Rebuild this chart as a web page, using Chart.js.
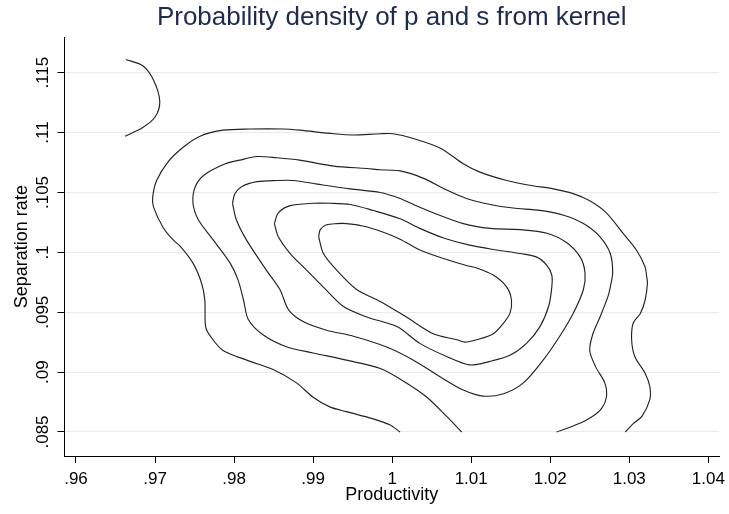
<!DOCTYPE html>
<html>
<head>
<meta charset="utf-8">
<title>Probability density of p and s from kernel</title>
<script src="https://cdn.jsdelivr.net/npm/chart.js@4.4.1/dist/chart.umd.min.js"></script>
<style>
  html, body { margin: 0; padding: 0; background: #ffffff; }
  #wrap { width: 729px; height: 514px; }
</style>
</head>
<body>
<div id="wrap"><canvas id="kde" width="729" height="514"></canvas></div>
<script>
// Axis ticks
const xTicks = [0.96, 0.97, 0.98, 0.99, 1, 1.01, 1.02, 1.03, 1.04];
const xTickLabels = ['.96', '.97', '.98', '.99', '1', '1.01', '1.02', '1.03', '1.04'];
const yTicks = [0.085, 0.09, 0.095, 0.1, 0.105, 0.11, 0.115];
const yTickLabels = ['.085', '.09', '.095', '.1', '.105', '.11', '.115'];

// Contour lines of the estimated joint density, [productivity, separation rate]
const contourArc = [
  [0.9663, 0.1161], [0.9684, 0.1156], [0.9698, 0.1144], [0.9706, 0.1126],
  [0.9700, 0.1113], [0.9684, 0.1104], [0.9662, 0.1097]
];

const contourLevel1 = [
  [1.0010, 0.0850], [0.9997, 0.0856], [0.9976, 0.0861], [0.9942, 0.0867], [0.9921, 0.0871],
  [0.9900, 0.0879], [0.9879, 0.0891], [0.9850, 0.0902], [0.9816, 0.0910], [0.9786, 0.0918],
  [0.9770, 0.0930], [0.9764, 0.0938], [0.9763, 0.0960], [0.9759, 0.0974], [0.9748, 0.0991],
  [0.9732, 0.1005], [0.9722, 0.1011], [0.9710, 0.1021], [0.9698, 0.1038], [0.9697, 0.1046],
  [0.9702, 0.1060], [0.9717, 0.1076], [0.9736, 0.1088], [0.9757, 0.1097], [0.9786, 0.1102],
  [0.9820, 0.1103], [0.9862, 0.1103], [0.9883, 0.1102], [0.9926, 0.1099], [0.9951, 0.1098],
  [0.9985, 0.1099], [1.0001, 0.1099], [1.0027, 0.1095], [1.0061, 0.1087], [1.0090, 0.1074],
  [1.0111, 0.1067], [1.0145, 0.1060], [1.0174, 0.1056], [1.0204, 0.1053], [1.0229, 0.1049],
  [1.0250, 0.1043], [1.0271, 0.1033], [1.0292, 0.1016], [1.0309, 0.1002], [1.0320, 0.0988],
  [1.0322, 0.0980], [1.0323, 0.0974], [1.0320, 0.0960], [1.0314, 0.0949], [1.0305, 0.0941],
  [1.0303, 0.0927], [1.0307, 0.0913], [1.0320, 0.0899], [1.0326, 0.0888], [1.0326, 0.0877],
  [1.0316, 0.0863], [1.0305, 0.0857], [1.0295, 0.0850]
];

const contourLevel2 = [
  [1.0088, 0.0850], [1.0069, 0.0863], [1.0044, 0.0879], [1.0018, 0.0891], [0.9985, 0.0903],
  [0.9942, 0.0910], [0.9900, 0.0916], [0.9867, 0.0921], [0.9837, 0.0931], [0.9818, 0.0944],
  [0.9812, 0.0960], [0.9805, 0.0977], [0.9795, 0.0991], [0.9774, 0.1010], [0.9755, 0.1027],
  [0.9748, 0.1041], [0.9751, 0.1055], [0.9763, 0.1065], [0.9789, 0.1074], [0.9807, 0.1077],
  [0.9829, 0.1080], [0.9854, 0.1079], [0.9883, 0.1077], [0.9926, 0.1072], [0.9968, 0.1070],
  [0.9985, 0.1069], [1.0010, 0.1068], [1.0039, 0.1062], [1.0069, 0.1052], [1.0094, 0.1045],
  [1.0124, 0.1040], [1.0153, 0.1037], [1.0187, 0.1035], [1.0217, 0.1031], [1.0242, 0.1024],
  [1.0263, 0.1013], [1.0276, 0.0999], [1.0279, 0.0983], [1.0276, 0.0971], [1.0273, 0.0963],
  [1.0263, 0.0946], [1.0254, 0.0932], [1.0250, 0.0918], [1.0257, 0.0905], [1.0269, 0.0891],
  [1.0271, 0.0879], [1.0263, 0.0868], [1.0246, 0.0860], [1.0225, 0.0854], [1.0208, 0.0850]
];

const contourLevel3 = [
  [0.9798, 0.1041], [0.9801, 0.1049], [0.9810, 0.1055], [0.9829, 0.1059], [0.9854, 0.1060],
  [0.9875, 0.1060], [0.9905, 0.1057], [0.9947, 0.1053], [0.9985, 0.1050], [1.0010, 0.1045],
  [1.0027, 0.1040], [1.0052, 0.1033], [1.0090, 0.1024], [1.0124, 0.1020], [1.0162, 0.1019],
  [1.0196, 0.1016], [1.0221, 0.1008], [1.0238, 0.0996], [1.0244, 0.0983], [1.0242, 0.0969],
  [1.0229, 0.0949], [1.0212, 0.0930], [1.0191, 0.0910], [1.0166, 0.0891], [1.0141, 0.0882],
  [1.0115, 0.0880], [1.0090, 0.0885], [1.0061, 0.0896], [1.0027, 0.0910], [0.9993, 0.0921],
  [0.9951, 0.0930], [0.9917, 0.0935], [0.9888, 0.0942], [0.9869, 0.0952], [0.9858, 0.0969],
  [0.9841, 0.0985], [0.9816, 0.1010], [0.9803, 0.1027], [0.9798, 0.1041]
];

const contourLevel4 = [
  [0.9851, 0.1024], [0.9856, 0.1033], [0.9871, 0.1039], [0.9900, 0.1041], [0.9921, 0.1041],
  [0.9947, 0.1040], [0.9976, 0.1035], [1.0010, 0.1028], [1.0035, 0.1020], [1.0065, 0.1012],
  [1.0098, 0.1006], [1.0132, 0.1002], [1.0162, 0.0999], [1.0183, 0.0996], [1.0196, 0.0989],
  [1.0202, 0.0981], [1.0202, 0.0971], [1.0198, 0.0955], [1.0187, 0.0938], [1.0170, 0.0924],
  [1.0149, 0.0914], [1.0124, 0.0909], [1.0098, 0.0906], [1.0069, 0.0913], [1.0035, 0.0924],
  [1.0006, 0.0938], [0.9968, 0.0946], [0.9938, 0.0955], [0.9913, 0.0971], [0.9892, 0.0985],
  [0.9871, 0.0999], [0.9856, 0.1013], [0.9851, 0.1024]
];

const contourLevel5 = [
  [0.9907, 0.1013], [0.9909, 0.1019], [0.9917, 0.1023], [0.9930, 0.1024], [0.9942, 0.1024],
  [0.9963, 0.1022], [0.9988, 0.1017], [1.0010, 0.1011], [1.0035, 0.1002], [1.0069, 0.0994],
  [1.0094, 0.0989], [1.0107, 0.0987], [1.0128, 0.0981], [1.0145, 0.0971], [1.0151, 0.0960],
  [1.0149, 0.0949], [1.0141, 0.0941], [1.0128, 0.0932], [1.0107, 0.0927], [1.0092, 0.0925],
  [1.0082, 0.0927], [1.0052, 0.0932], [1.0018, 0.0946], [0.9985, 0.0959], [0.9955, 0.0969],
  [0.9930, 0.0985], [0.9913, 0.0999], [0.9907, 0.1013]
];

const contours = [contourArc, contourLevel1, contourLevel2, contourLevel3, contourLevel4, contourLevel5];

// Axis ranges
const xMin = 0.958545, xMax = 1.041354;
const yMin = 0.082996, yMax = 0.117956;

const FONT = "'Liberation Sans', Arial, Helvetica, sans-serif";

const datasets = contours.map(c => ({
  data: c.map(([p, s]) => ({ x: p, y: s })),
  showLine: true,
  pointRadius: 0,
  borderColor: '#222222',
  borderWidth: 1.15,
  tension: 0.3,
  fill: false
}));

new Chart(document.getElementById('kde'), {
  type: 'scatter',
  data: { datasets },
  options: {
    responsive: false,
    animation: false,
    events: [],
    layout: { padding: { left: 0, right: 10, top: 0, bottom: 0 } },
    plugins: {
      legend: { display: false },
      tooltip: { enabled: false },
      title: {
        display: true,
        text: 'Probability density of p and s from kernel',
        fullSize: false,
        color: '#1c2b4e',
        font: { family: FONT, size: 26, weight: 'normal', lineHeight: 1.2 },
        padding: { top: 2.1, bottom: 4.0 }
      }
    },
    scales: {
      x: {
        type: 'linear',
        min: xMin,
        max: xMax,
        afterBuildTicks: scale => { scale.ticks = xTicks.map(v => ({ value: v })); },
        afterFit: scale => {
          scale.height = 58;
          scale.paddingLeft = 0; scale.paddingRight = 0;
          scale.paddingTop = 0; scale.paddingBottom = 0;
        },
        ticks: {
          autoSkip: false,
          maxRotation: 0,
          minRotation: 0,
          padding: 6,
          color: '#000',
          font: { family: FONT, size: 17 },
          callback: (value, index) => xTickLabels[index]
        },
        grid: { drawOnChartArea: false, drawTicks: true, tickLength: 7, tickColor: '#000', tickWidth: 1 },
        border: { display: true, color: '#000', width: 1 },
        title: {
          display: true,
          text: 'Productivity',
          color: '#000',
          font: { family: FONT, size: 18, lineHeight: 1.2 },
          padding: { top: 0, bottom: 7.7 }
        }
      },
      y: {
        type: 'linear',
        min: yMin,
        max: yMax,
        afterBuildTicks: scale => { scale.ticks = yTicks.map(v => ({ value: v })); },
        afterFit: scale => {
          scale.width = 64.5;
          scale.paddingLeft = 0; scale.paddingRight = 0;
          scale.paddingTop = 0; scale.paddingBottom = 0;
        },
        ticks: {
          autoSkip: false,
          minRotation: 90,
          maxRotation: 90,
          crossAlign: 'center',
          padding: -2,
          color: '#000',
          font: { family: FONT, size: 17 },
          callback: (value, index) => yTickLabels[index]
        },
        grid: { drawOnChartArea: true, color: '#e4ecef', lineWidth: 1, drawTicks: true, tickLength: 7, tickColor: '#000', tickWidth: 1 },
        border: { display: true, color: '#000', width: 1 },
        title: {
          display: true,
          text: 'Separation rate',
          color: '#000',
          font: { family: FONT, size: 18, lineHeight: 1.2 },
          padding: { top: 10.9, bottom: 0 }
        }
      }
    }
  }
});
</script>
</body>
</html>
